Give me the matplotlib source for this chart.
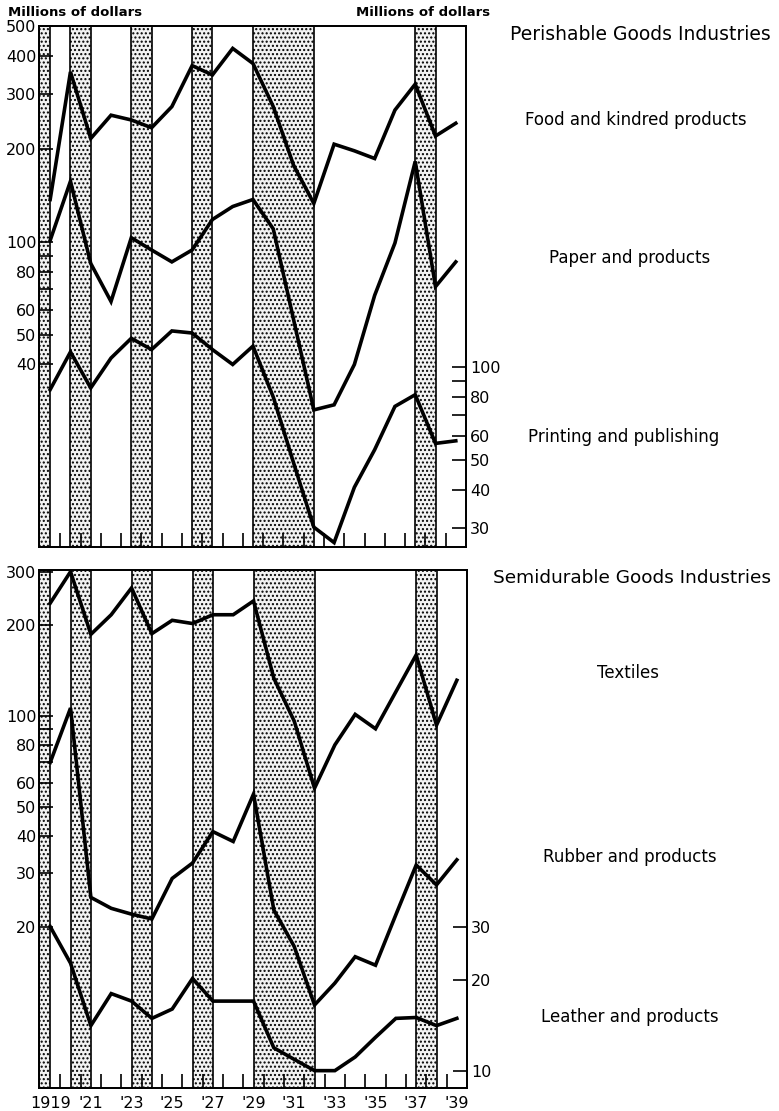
import matplotlib
matplotlib.use("Agg")
import matplotlib.pyplot as plt
import numpy as np

years = list(range(1919, 1940))

# Perishable goods (millions of dollars)
food = [137, 355, 216, 257, 248, 234, 274, 372, 347, 423, 378, 274, 177, 133, 207, 197, 186, 267, 324, 220, 242]
paper = [101, 157, 85, 64, 103, 94, 86, 94, 118, 130, 137, 110, 56, 28.5, 29.6, 40, 67, 99, 182, 71.5, 86]
printing = [84.6, 112, 85.6, 107, 124, 114, 131, 129, 114, 102, 117, 80, 49, 30.3, 27, 40.8, 54, 74.6, 81.4, 56.6, 57.7]

# Semidurable goods (millions of dollars)
textiles = [236, 300, 186, 216, 265, 187, 207, 202, 216, 216, 240, 133, 96, 57.5, 80, 101, 90.5, 120, 159, 93, 131]
rubber = [70, 106, 25, 23, 22, 21.2, 28.9, 32.5, 41.3, 38.3, 55, 22.7, 17.2, 11.0, 13.0, 15.9, 14.9, 21.9, 32, 27.5, 33.3]
leather = [30, 22.7, 14.1, 18, 17, 14.9, 16, 20.2, 17, 17, 17, 11.9, 10.9, 10, 10, 11.1, 12.9, 14.9, 15, 14.1, 14.9]

# Shaded (contraction) periods
bands = [(1918.45, 1919), (1920, 1921), (1923, 1924), (1926, 1927), (1929, 1932), (1937, 1938)]

x_labels = ["1919", "'21", "'23", "'25", "'27", "'29", "'31", "'33", "'35", "'37", "'39"]
x_label_pos = list(range(1919, 1940, 2))

top_left_ticks = [40, 50, 60, 70, 80, 90, 100, 200, 300, 400, 500]
top_left_labels = {40: "40", 50: "50", 60: "60", 80: "80", 100: "100", 200: "200", 300: "300", 400: "400", 500: "500"}
top_right_ticks = [30, 40, 50, 60, 70, 80, 90, 100]
top_right_labels = {30: "30", 40: "40", 50: "50", 60: "60", 80: "80", 100: "100"}
bot_left_ticks = [20, 30, 40, 50, 60, 70, 80, 90, 100, 200, 300]
bot_left_labels = {20: "20", 30: "30", 40: "40", 50: "50", 60: "60", 80: "80", 100: "100", 200: "200", 300: "300"}
bot_right_ticks = [10, 20, 30]
bot_right_labels = {10: "10", 20: "20", 30: "30"}

plt.rcParams['font.family'] = ['DejaVu Sans']
plt.rcParams['hatch.linewidth'] = 1.0
plt.rcParams['hatch.color'] = '#555555'

fig = plt.figure(figsize=(7.79, 11.11), dpi=100)

LW = 2.6
XMIN, XMAX = 1918.45, 1939.5


def setup_ax(ax, ylim, ticks, labels, side):
    ax.set_yscale('log')
    ax.set_ylim(*ylim)
    ax.yaxis.set_major_locator(matplotlib.ticker.FixedLocator(ticks))
    ax.yaxis.set_minor_locator(matplotlib.ticker.NullLocator())
    ax.yaxis.set_major_formatter(matplotlib.ticker.FuncFormatter(lambda v, p: labels.get(int(round(v)), "")))
    if side == 'left':
        ax.tick_params(axis='y', which='major', direction='in', length=10, width=1.2,
                       labelsize=11.5, pad=2, left=True, right=False, labelleft=True, labelright=False)
    else:
        ax.tick_params(axis='y', which='major', direction='in', length=10, width=1.2,
                       labelsize=11.5, pad=3, left=False, right=True, labelleft=False, labelright=True)


def base_panel(rect, ylim, ticks, labels, show_xlabels):
    ax = fig.add_axes(rect)
    ax.set_xlim(XMIN, XMAX)
    for a, b in bands:
        ax.axvspan(a, b, facecolor='#f2f2f2', hatch='....', edgecolor='black', linewidth=1.2, zorder=1)
    setup_ax(ax, ylim, ticks, labels, 'left')
    ax.xaxis.set_major_locator(matplotlib.ticker.FixedLocator(x_label_pos))
    ax.xaxis.set_minor_locator(matplotlib.ticker.FixedLocator([y + 0.5 for y in range(1919, 1939)]))
    ax.tick_params(axis='x', which='major', length=0, labelsize=11.5, pad=6, labelbottom=show_xlabels)
    ax.tick_params(axis='x', which='minor', direction='in', length=10, width=1.2)
    if show_xlabels:
        ax.set_xticklabels(x_labels)
    for s in ax.spines.values():
        s.set_linewidth(1.3)
        s.set_zorder(5)
    return ax

# ---- Top panel ----
ax1 = base_panel([0.0501, 0.5077, 0.548, 0.4689], (10.25, 500), top_left_ticks, top_left_labels, False)
ax1.plot(years, food, color='black', lw=LW, zorder=4, solid_joinstyle='miter')
ax1.plot(years, paper, color='black', lw=LW, zorder=4, solid_joinstyle='miter')
ax1r = ax1.twinx()
setup_ax(ax1r, (10.25 * 2.55, 500 * 2.55), top_right_ticks, top_right_labels, 'right')
ax1r.plot(years, printing, color='black', lw=LW, zorder=4, solid_joinstyle='miter')
for s in ax1r.spines.values():
    s.set_linewidth(1.3)

# ---- Bottom panel ----
ax2 = base_panel([0.0501, 0.0207, 0.5494, 0.4663], (5.84, 304), bot_left_ticks, bot_left_labels, True)
ax2.plot(years, textiles, color='black', lw=LW, zorder=4, solid_joinstyle='miter')
ax2.plot(years, rubber, color='black', lw=LW, zorder=4, solid_joinstyle='miter')
ax2r = ax2.twinx()
setup_ax(ax2r, (5.84 * 1.5, 304 * 1.5), bot_right_ticks, bot_right_labels, 'right')
ax2r.plot(years, leather, color='black', lw=LW, zorder=4, solid_joinstyle='miter')
for s in ax2r.spines.values():
    s.set_linewidth(1.3)

# ---- Annotations ----
def ftxt(px, py, s, size, ha='center', weight='normal'):
    fig.text(px / 779, 1 - py / 1111, s, fontsize=size, ha=ha, va='center', weight=weight)

ftxt(8, 12, "Millions of dollars", 9.5, ha='left', weight='bold')
ftxt(490, 12, "Millions of dollars", 9.5, ha='right', weight='bold')
ftxt(771, 35, "Perishable Goods Industries", 13.5, ha='right')
ftxt(636, 120, "Food and kindred products", 12)
ftxt(630, 258, "Paper and products", 12)
ftxt(624, 437, "Printing and publishing", 12)
ftxt(771, 578, "Semidurable Goods Industries", 13.3, ha='right')
ftxt(628, 673, "Textiles", 12)
ftxt(630, 857, "Rubber and products", 12)
ftxt(630, 1017, "Leather and products", 12)

fig.savefig("out.png", dpi=100)
